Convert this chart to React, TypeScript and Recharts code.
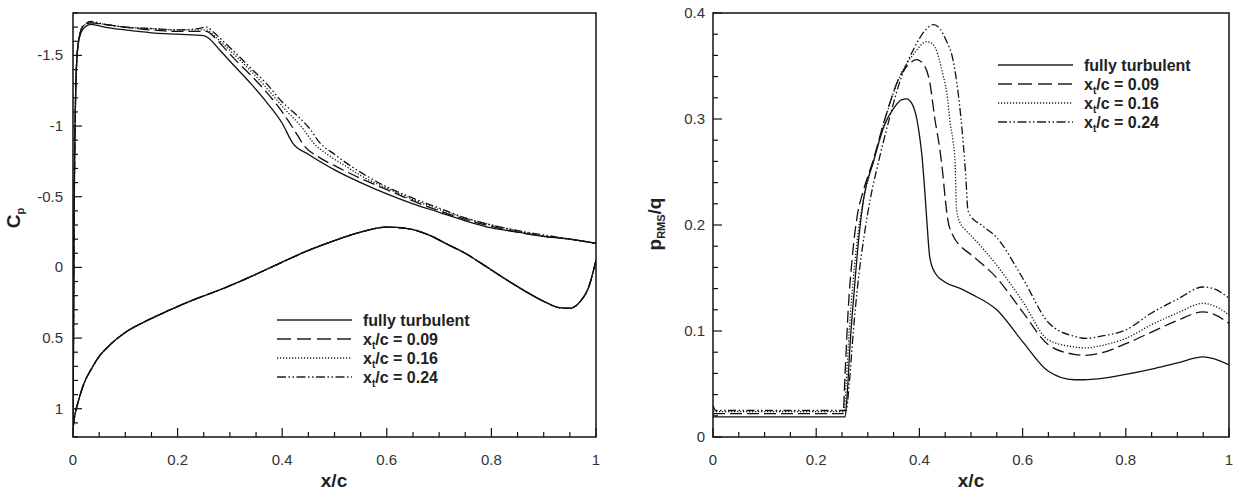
import React from "react";
import { LineChart, Line, XAxis, YAxis, ReferenceArea } from "recharts";

const FONT = '"Liberation Sans", Arial, Helvetica, sans-serif';
const INK = "#111";

// ---- tick labels ----
const xTicks = [0, 0.05, 0.1, 0.15, 0.2, 0.25, 0.3, 0.35, 0.4, 0.45, 0.5, 0.55, 0.6, 0.65, 0.7, 0.75, 0.8, 0.85, 0.9, 0.95, 1];
const xMajor = [0, 0.2, 0.4, 0.6, 0.8, 1];
const cpTicks = [-1.8, -1.7, -1.6, -1.5, -1.4, -1.3, -1.2, -1.1, -1, -0.9, -0.8, -0.7, -0.6, -0.5, -0.4, -0.3, -0.2, -0.1, 0, 0.1, 0.2, 0.3, 0.4, 0.5, 0.6, 0.7, 0.8, 0.9, 1, 1.1, 1.2];
const cpMajor = [-1.5, -1, -0.5, 0, 0.5, 1];
const prmsTicks = [0, 0.02, 0.04, 0.06, 0.08, 0.1, 0.12, 0.14, 0.16, 0.18, 0.2, 0.22, 0.24, 0.26, 0.28, 0.3, 0.32, 0.34, 0.36, 0.38, 0.4];
const prmsMajor = [0, 0.1, 0.2, 0.3, 0.4];

// ---- legend ----
const transitionLocs = ["0.09", "0.16", "0.24"];

// ---- Cp, upper surface ----
const ftUpX = [0, 0.001, 0.002, 0.004, 0.007, 0.012, 0.02, 0.035, 0.06, 0.1, 0.15, 0.2, 0.25, 0.26, 0.28, 0.31, 0.34, 0.37, 0.4, 0.42, 0.45, 0.5, 0.55, 0.6, 0.65, 0.7, 0.75, 0.8, 0.85, 0.9, 0.95, 1];
const ftUpCp = [1.14, 0.5, -0.3, -1.0, -1.45, -1.62, -1.69, -1.72, -1.7, -1.68, -1.66, -1.65, -1.64, -1.62, -1.54, -1.42, -1.3, -1.17, -1.02, -0.88, -0.8, -0.69, -0.6, -0.52, -0.45, -0.39, -0.33, -0.28, -0.25, -0.22, -0.2, -0.17];

const t09UpX = [0, 0.001, 0.002, 0.004, 0.007, 0.012, 0.02, 0.035, 0.06, 0.1, 0.15, 0.2, 0.24, 0.255, 0.27, 0.29, 0.31, 0.34, 0.37, 0.4, 0.43, 0.44, 0.47, 0.5, 0.55, 0.6, 0.65, 0.7, 0.75, 0.8, 0.85, 0.9, 0.95, 1];
const t09UpCp = [1.14, 0.5, -0.3, -1.0, -1.45, -1.63, -1.71, -1.73, -1.72, -1.7, -1.68, -1.67, -1.67, -1.67, -1.63, -1.55, -1.47, -1.36, -1.24, -1.1, -0.93, -0.87, -0.78, -0.72, -0.63, -0.55, -0.47, -0.4, -0.34, -0.29, -0.25, -0.22, -0.2, -0.17];

const t16UpX = [0, 0.001, 0.002, 0.004, 0.007, 0.012, 0.02, 0.035, 0.06, 0.1, 0.15, 0.2, 0.24, 0.255, 0.27, 0.29, 0.31, 0.34, 0.37, 0.4, 0.44, 0.46, 0.49, 0.52, 0.55, 0.6, 0.65, 0.7, 0.75, 0.8, 0.85, 0.9, 0.95, 1];
const t16UpCp = [1.14, 0.5, -0.3, -1.0, -1.45, -1.63, -1.71, -1.73, -1.72, -1.7, -1.69, -1.68, -1.68, -1.68, -1.64, -1.57, -1.5, -1.39, -1.27, -1.14, -0.98, -0.88, -0.79, -0.72, -0.65, -0.56, -0.48, -0.41, -0.35, -0.3, -0.26, -0.22, -0.2, -0.17];

const t24UpX = [0, 0.001, 0.002, 0.004, 0.007, 0.012, 0.02, 0.035, 0.06, 0.1, 0.15, 0.2, 0.24, 0.255, 0.27, 0.29, 0.31, 0.34, 0.37, 0.4, 0.43, 0.455, 0.47, 0.5, 0.53, 0.56, 0.6, 0.65, 0.7, 0.75, 0.8, 0.85, 0.9, 0.95, 1];
const t24UpCp = [1.14, 0.5, -0.3, -1.0, -1.45, -1.63, -1.71, -1.74, -1.72, -1.7, -1.69, -1.68, -1.69, -1.7, -1.66, -1.59, -1.52, -1.41, -1.3, -1.17, -1.07, -0.97, -0.89, -0.8, -0.72, -0.65, -0.57, -0.49, -0.42, -0.35, -0.3, -0.26, -0.23, -0.2, -0.17];

// ---- Cp, lower surface (same for all cases) ----
const lowX = [0, 0.002, 0.005, 0.01, 0.02, 0.035, 0.05, 0.07, 0.1, 0.134, 0.18, 0.23, 0.28, 0.325, 0.39, 0.45, 0.5, 0.55, 0.6, 0.64, 0.68, 0.715, 0.75, 0.78, 0.83, 0.87, 0.9, 0.93, 0.95, 0.97, 0.985, 1];
const lowCp = [1.14, 1.08, 1.02, 0.95, 0.83, 0.72, 0.63, 0.55, 0.46, 0.39, 0.31, 0.23, 0.16, 0.09, -0.02, -0.12, -0.19, -0.25, -0.285, -0.275, -0.23, -0.165, -0.1, -0.03, 0.09, 0.18, 0.24, 0.285, 0.29, 0.24, 0.15, -0.05];

// ---- pRMS/q ----
const ftPx = [0, 0.1, 0.2, 0.256, 0.26, 0.266, 0.274, 0.283, 0.292, 0.311, 0.333, 0.35, 0.365, 0.375, 0.385, 0.395, 0.4, 0.405, 0.41, 0.415, 0.42, 0.43, 0.45, 0.48, 0.5, 0.55, 0.6, 0.65, 0.7, 0.72, 0.75, 0.8, 0.85, 0.9, 0.95, 0.97, 1];
const ftPv = [0.019, 0.019, 0.019, 0.019, 0.04, 0.09, 0.14, 0.19, 0.225, 0.26, 0.295, 0.31, 0.318, 0.319, 0.315, 0.3, 0.285, 0.265, 0.235, 0.2, 0.17, 0.155, 0.146, 0.14, 0.135, 0.12, 0.09, 0.062, 0.054, 0.054, 0.055, 0.059, 0.064, 0.07, 0.0755, 0.074, 0.068];

const t09Px = [0, 0.1, 0.2, 0.252, 0.256, 0.262, 0.27, 0.28, 0.29, 0.311, 0.333, 0.362, 0.38, 0.395, 0.41, 0.42, 0.43, 0.44, 0.445, 0.45, 0.455, 0.465, 0.48, 0.5, 0.55, 0.6, 0.65, 0.7, 0.72, 0.75, 0.8, 0.85, 0.9, 0.95, 0.97, 1];
const t09Pv = [0.022, 0.022, 0.022, 0.022, 0.06, 0.12, 0.17, 0.21, 0.23, 0.262, 0.3, 0.34, 0.352, 0.356, 0.35, 0.335, 0.3, 0.27, 0.25, 0.225, 0.205, 0.19, 0.18, 0.172, 0.15, 0.118, 0.087, 0.078, 0.077, 0.079, 0.088, 0.099, 0.11, 0.118, 0.116, 0.107];

const t16Px = [0, 0.1, 0.2, 0.254, 0.258, 0.264, 0.272, 0.282, 0.292, 0.311, 0.333, 0.362, 0.39, 0.414, 0.425, 0.435, 0.445, 0.453, 0.46, 0.465, 0.469, 0.472, 0.478, 0.49, 0.5, 0.55, 0.6, 0.65, 0.7, 0.725, 0.75, 0.8, 0.85, 0.9, 0.95, 0.97, 1];
const t16Pv = [0.024, 0.024, 0.024, 0.024, 0.05, 0.1, 0.15, 0.195, 0.225, 0.26, 0.299, 0.34, 0.362, 0.373, 0.371, 0.362, 0.343, 0.325, 0.295, 0.28, 0.26, 0.215, 0.203, 0.195, 0.19, 0.162, 0.128, 0.0915, 0.085, 0.084, 0.086, 0.093, 0.106, 0.117, 0.126, 0.124, 0.115];

const t24Px = [0, 0.005, 0.1, 0.2, 0.258, 0.264, 0.272, 0.282, 0.293, 0.305, 0.32, 0.34, 0.362, 0.39, 0.41, 0.427, 0.44, 0.452, 0.465, 0.475, 0.485, 0.49, 0.494, 0.5, 0.52, 0.55, 0.6, 0.65, 0.7, 0.725, 0.75, 0.8, 0.85, 0.9, 0.95, 0.97, 1];
const t24Pv = [0.03, 0.025, 0.025, 0.025, 0.025, 0.05, 0.1, 0.15, 0.19, 0.225, 0.258, 0.297, 0.335, 0.367, 0.383, 0.389, 0.385, 0.374, 0.356, 0.325, 0.277, 0.245, 0.214, 0.208, 0.2, 0.188, 0.15, 0.108, 0.095, 0.093, 0.095, 0.101, 0.117, 0.13, 0.1415, 0.14, 0.131];

const zip = (xs: number[], ys: number[]) => xs.map((x, i) => ({ x, y: ys[i] }));

// solid, dashed, dotted, dash-dot-dot
const DASHES = [undefined, "12 5", "1.2 1.8", "8 2.5 1.5 2.5 1.5 2.5"];
const LEGEND_DASHES = [undefined, "14 6", "1.2 1.8", "9 2.5 1.5 2.5 1.5 2.5"];

const isMajor = (v: number, majors: number[]) => majors.some((m) => Math.abs(m - v) < 1e-9);

const bottomTick = (majors: number[]) => (props: any) => {
  const { x, y, payload } = props;
  const major = isMajor(payload.value, majors);
  return (
    <g>
      <line x1={x} x2={x} y1={y} y2={y - (major ? 9 : 5)} stroke={INK} strokeWidth={1.2} />
      {major && (
        <text x={x} y={y + 28} textAnchor="middle" fontSize={15} fill="#333" fontFamily={FONT}>
          {payload.value}
        </text>
      )}
    </g>
  );
};

const leftTick = (majors: number[], gap: number) => (props: any) => {
  const { x, y, payload } = props;
  const major = isMajor(payload.value, majors);
  return (
    <g>
      <line x1={x} x2={x + (major ? 9 : 5)} y1={y} y2={y} stroke={INK} strokeWidth={1.2} />
      {major && (
        <text x={x - gap} y={y + 5} textAnchor="end" fontSize={15} fill="#333" fontFamily={FONT}>
          {payload.value}
        </text>
      )}
    </g>
  );
};

const lineProps = (i: number) => ({
  type: "monotone" as const,
  dataKey: "y",
  stroke: INK,
  strokeWidth: 1.3,
  strokeDasharray: DASHES[i],
  dot: false,
  activeDot: false,
  isAnimationActive: false,
});

function LegendBlock({ x, y }: { x: number; y: number }) {
  const rows = ["fully turbulent", ...transitionLocs];
  return (
    <g fontFamily={FONT} fontWeight="bold" fontSize={16} fill="#222">
      {rows.map((r, i) => {
        const cy = y + i * 19;
        return (
          <g key={i}>
            <line x1={x} x2={x + 75} y1={cy} y2={cy} stroke="#222" strokeWidth={1.5} strokeDasharray={LEGEND_DASHES[i]} />
            {i === 0 ? (
              <text x={x + 86} y={cy + 5.5}>{r}</text>
            ) : (
              <text x={x + 86} y={cy + 5.5}>
                x<tspan fontSize={10} dy={4}>t</tspan>
                <tspan dy={-4}>/c = {r}</tspan>
              </text>
            )}
          </g>
        );
      })}
    </g>
  );
}

export default function App() {
  const cpUp = [zip(ftUpX, ftUpCp), zip(t09UpX, t09UpCp), zip(t16UpX, t16UpCp), zip(t24UpX, t24UpCp)];
  const cpLow = zip(lowX, lowCp);
  const prms = [zip(ftPx, ftPv), zip(t09Px, t09Pv), zip(t16Px, t16Pv), zip(t24Px, t24Pv)];

  return (
    <div style={{ position: "absolute", left: 0, top: 0, width: 1236, height: 496, background: "#fff" }}>
      <div style={{ position: "absolute", left: 0, top: 0 }}>
        <LineChart width={620} height={496} margin={{ top: 13, right: 24, bottom: 0, left: 0 }}>
          <XAxis type="number" dataKey="x" domain={[0, 1]} ticks={xTicks} interval={0} height={59}
            tickSize={0} tickMargin={0} axisLine={false} tickLine={false} tick={bottomTick(xMajor)} allowDataOverflow />
          <YAxis type="number" dataKey="y" domain={[-1.8, 1.2]} reversed ticks={cpTicks} interval={0} width={73}
            tickSize={0} tickMargin={0} axisLine={false} tickLine={false} tick={leftTick(cpMajor, 10)} allowDataOverflow />
          <ReferenceArea x1={0} x2={1} y1={-1.8} y2={1.2} fill="none" stroke={INK} strokeWidth={1.5} />
          {cpUp.map((d, i) => (
            <Line key={"u" + i} name={"up" + i} data={d} {...lineProps(i)} />
          ))}
          {cpUp.map((_, i) => (
            <Line key={"l" + i} name={"low" + i} data={cpLow} {...lineProps(i)} />
          ))}
        </LineChart>
      </div>
      <div style={{ position: "absolute", left: 620, top: 0 }}>
        <LineChart width={616} height={496} margin={{ top: 13, right: 7, bottom: 0, left: 0 }}>
          <XAxis type="number" dataKey="x" domain={[0, 1]} ticks={xTicks} interval={0} height={59}
            tickSize={0} tickMargin={0} axisLine={false} tickLine={false} tick={bottomTick(xMajor)} allowDataOverflow />
          <YAxis type="number" dataKey="y" domain={[0, 0.4]} ticks={prmsTicks} interval={0} width={93}
            tickSize={0} tickMargin={0} axisLine={false} tickLine={false} tick={leftTick(prmsMajor, 8)} allowDataOverflow />
          <ReferenceArea x1={0} x2={1} y1={0} y2={0.4} fill="none" stroke={INK} strokeWidth={1.5} />
          {prms.map((d, i) => (
            <Line key={"p" + i} name={"p" + i} data={d} {...lineProps(i)} />
          ))}
        </LineChart>
      </div>
      <svg width={1236} height={496} style={{ position: "absolute", left: 0, top: 0, pointerEvents: "none" }}>
        <g fontFamily={FONT} fontWeight="bold" fill="#222">
          <text x={334} y={487} fontSize={19} textAnchor="middle">x/c</text>
          <text x={971} y={487} fontSize={19} textAnchor="middle">x/c</text>
          <text transform="translate(20 218) rotate(-90)" fontSize={19} textAnchor="middle">
            C<tspan fontSize={11} dy={4}>p</tspan>
          </text>
          <text transform="translate(661 224) rotate(-90)" fontSize={19} textAnchor="middle">
            p<tspan fontSize={11} dy={4}>RMS</tspan>
            <tspan dy={-4}>/q</tspan>
          </text>
        </g>
        <LegendBlock x={277} y={320} />
        <LegendBlock x={998} y={65} />
      </svg>
    </div>
  );
}
